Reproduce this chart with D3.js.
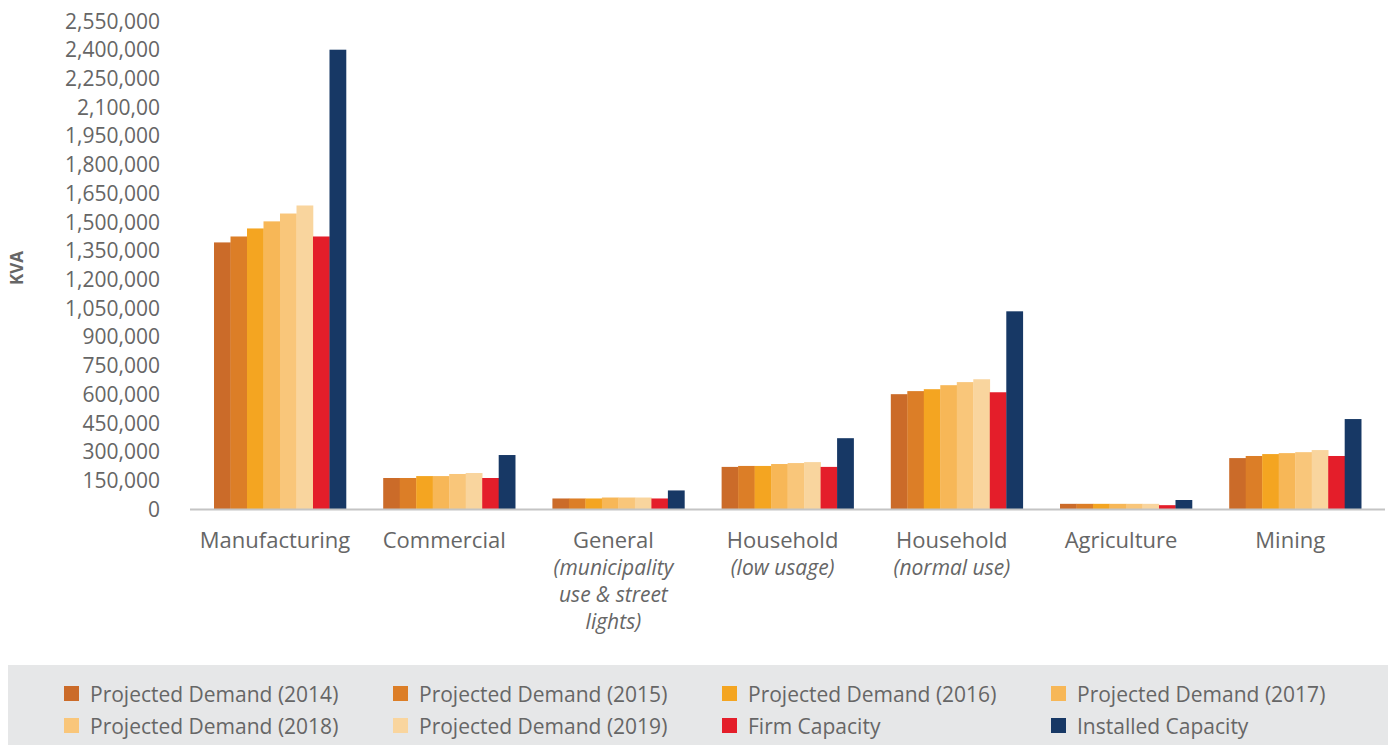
<!DOCTYPE html>
<html>
<head>
<meta charset="utf-8">
<script src="https://cdn.jsdelivr.net/npm/d3@7"></script>
<style>
  html, body { margin: 0; padding: 0; background: #fff; }
  svg { display: block; font-family: "Open Sans", "Noto Sans", sans-serif; }
</style>
</head>
<body>
<svg id="chart" width="1388" height="745"></svg>
<script>
// Sectors on the x axis (first line, optional italic sub-lines)
const categories = ["Manufacturing", "Commercial", "General", "Household", "Household", "Agriculture", "Mining"];
const subLabels = [[], [], ["(municipality", "use & street", "lights)"], ["(low usage)"], ["(normal use)"], [], []];

// Series shown in each group
const seriesNames = [
  "Projected Demand (2014)", "Projected Demand (2015)", "Projected Demand (2016)", "Projected Demand (2017)",
  "Projected Demand (2018)", "Projected Demand (2019)", "Firm Capacity", "Installed Capacity"
];
const seriesColors = ["#CB6B29", "#DC7E27", "#F4A521", "#F7B757", "#F9C67A", "#F9D59E", "#E41E2A", "#173865"];

// KVA values per series, one entry per sector
const demand2014 = [1393000, 162000, 55000, 220000, 600000, 27000, 266000];
const demand2015 = [1424000, 162000, 55000, 225000, 616000, 27000, 277000];
const demand2016 = [1466000, 172000, 55000, 225000, 626000, 27000, 287000];
const demand2017 = [1503000, 172000, 60000, 235000, 647000, 27000, 292000];
const demand2018 = [1544000, 183000, 60000, 240000, 663000, 27000, 297000];
const demand2019 = [1586000, 188000, 60000, 245000, 678000, 27000, 308000];
const firmCapacity = [1424000, 162000, 55000, 220000, 610000, 20000, 277000];
const installedCapacity = [2400000, 282000, 97000, 370000, 1033000, 47000, 470000];
const seriesValues = [demand2014, demand2015, demand2016, demand2017, demand2018, demand2019, firmCapacity, installedCapacity];

// Y tick values and their printed labels
const tickValues = [0, 150000, 300000, 450000, 600000, 750000, 900000, 1050000, 1200000, 1350000,
  1500000, 1650000, 1800000, 1950000, 2100000, 2250000, 2400000, 2550000];
const tickLabels = ["0", "150,000", "300,000", "450,000", "600,000", "750,000", "900,000", "1,050,000",
  "1,200,000", "1,350,000", "1,500,000", "1,650,000", "1,800,000", "1,950,000", "2,100,00",
  "2,250,000", "2,400,000", "2,550,000"];

const svg = d3.select("#chart");
const textColor = "#666666";

const y = d3.scaleLinear().domain([0, 2550000]).range([509, 21]);
const x0 = d3.scaleBand().domain(d3.range(categories.length)).range([195.4, 1379.8])
  .paddingInner(0.22).paddingOuter(0.11);
const x1 = d3.scaleBand().domain(d3.range(seriesNames.length)).range([0, x0.bandwidth()]);

// Y axis labels (no axis line)
const yAxis = d3.axisLeft(y).tickValues(tickValues)
  .tickFormat((d, i) => tickLabels[i]).tickSize(0).tickPadding(0);
const yg = svg.append("g").attr("transform", "translate(160,0)").call(yAxis);
yg.select(".domain").remove();
yg.selectAll("text").attr("fill", textColor).style("font-size", "21px")
  .style("font-family", "'Open Sans', sans-serif")
  .attr("dy", "0.34em");

// Axis title
svg.append("text")
  .attr("transform", "translate(23,268) rotate(-90)")
  .attr("text-anchor", "middle")
  .attr("fill", textColor)
  .style("font-size", "17px").style("font-weight", "bold")
  .text("KVA");

// Bars
const groups = svg.append("g").selectAll("g")
  .data(categories.map((c, i) => i))
  .join("g")
  .attr("transform", i => `translate(${x0(i)},0)`);

groups.selectAll("rect")
  .data(i => seriesValues.map((vals, s) => ({ s, v: vals[i] })))
  .join("rect")
  .attr("x", d => x1(d.s))
  .attr("width", x1.bandwidth() + 0.3)
  .attr("y", d => y(d.v))
  .attr("height", d => y(0) - y(d.v))
  .attr("fill", d => seriesColors[d.s]);

// Baseline
svg.append("line")
  .attr("x1", 190).attr("x2", 1385)
  .attr("y1", y(0) + 0.5).attr("y2", y(0) + 0.5)
  .attr("stroke", "#C4C4C4").attr("stroke-width", 2);

// Category labels: main name plus separate italic lines underneath
const labelGroups = svg.append("g").selectAll("g")
  .data(categories.map((c, i) => i))
  .join("g")
  .attr("transform", i => `translate(${x0(i) + x0.bandwidth() / 2 - 5},0)`);
labelGroups.append("text")
  .attr("text-anchor", "middle").attr("fill", textColor)
  .attr("y", 548)
  .style("font-size", "22px").text(i => categories[i]);
labelGroups.selectAll("text.sub")
  .data(i => subLabels[i])
  .join("text").attr("class", "sub")
  .attr("text-anchor", "middle").attr("fill", textColor)
  .attr("y", (d, k) => 548 + 27 * (k + 1))
  .style("font-size", "21px").style("font-style", "italic")
  .text(d => d);

// Legend panel
svg.append("rect").attr("x", 8).attr("y", 665).attr("width", 1380).attr("height", 80).attr("fill", "#E6E7E8");
const legend = svg.append("g").selectAll("g")
  .data(seriesNames.map((n, i) => i))
  .join("g")
  .attr("transform", i => `translate(${64 + (i % 4) * 329},${686 + Math.floor(i / 4) * 32})`);
legend.append("rect").attr("width", 15).attr("height", 15).attr("fill", i => seriesColors[i]);
legend.append("text").attr("x", 26).attr("y", 15.5)
  .attr("fill", textColor).style("font-size", "21px")
  .text(i => seriesNames[i]);
</script>
</body>
</html>
